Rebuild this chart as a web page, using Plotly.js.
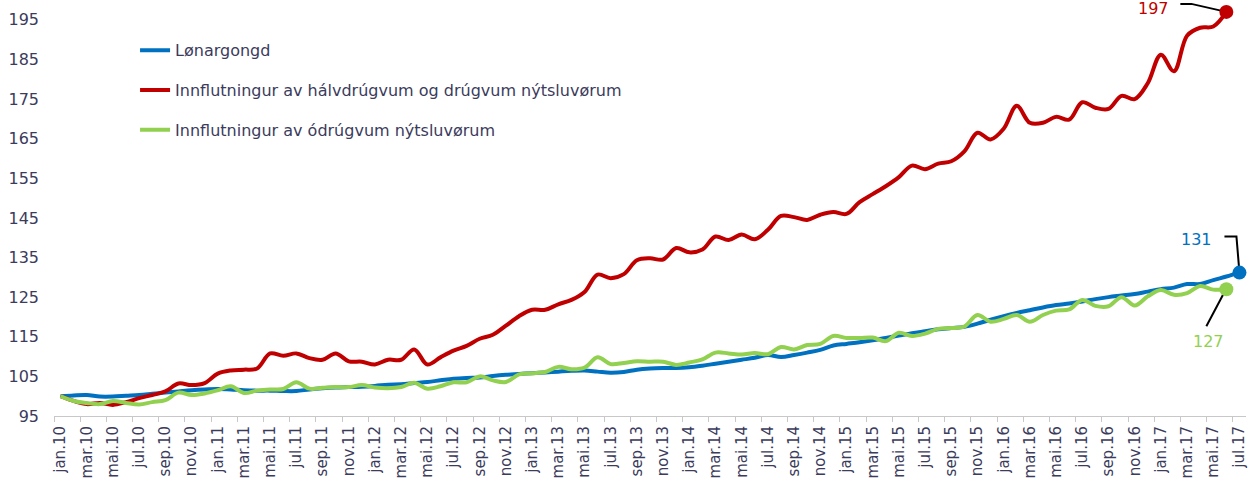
<!DOCTYPE html>
<html>
<head>
<meta charset="utf-8">
<script src="https://cdn.plot.ly/plotly-3.0.1.min.js"></script>
<style>
html,body{margin:0;padding:0;background:#fff;}
#chart{width:1249px;height:481px;}
</style>
</head>
<body>
<div id="chart"></div>
<script>
// ---- data ----
const monthNames = ["jan","feb","mar","apr","mai","jun","jul","aug","sep","okt","nov","des"];
const years = ["10","11","12","13","14","15","16","17"];
const categories = [];
years.forEach(function(yr){ monthNames.forEach(function(m){ categories.push(m + "." + yr); }); });
categories.length = 91; // jan.10 .. jul.17

const seriesNames = [
  "Lønargongd",
  "Innflutningur av hálvdrúgvum og drúgvum nýtsluvørum",
  "Innflutningur av ódrúgvum nýtsluvørum"
];

const wages = [
  100.0,100.2,100.3,99.9,99.9,100.1,100.3,100.6,100.9,101.2,101.5,101.7,
  101.8,101.7,101.5,101.4,101.4,101.3,101.3,101.7,102.0,102.2,102.3,102.4,
  102.6,102.9,103.0,103.3,103.6,104.0,104.4,104.6,104.7,105.1,105.4,105.6,
  105.8,106.0,106.2,106.4,106.5,106.2,105.9,106.1,106.7,107.0,107.1,107.1,
  107.3,107.7,108.2,108.7,109.2,109.7,110.4,109.9,110.4,111.0,111.7,112.8,
  113.2,113.6,114.1,114.7,115.3,115.9,116.4,116.9,117.2,117.5,118.3,119.3,
  120.2,121.0,121.7,122.4,123.0,123.4,123.9,124.5,125.0,125.4,125.8,126.4,
  127.0,127.4,128.3,128.3,129.3,130.2,131.2
];

const durableImports = [
  100.0,98.8,98.0,98.3,97.8,98.5,99.5,100.3,101.2,103.2,102.8,103.3,
  105.7,106.5,106.7,107.0,110.8,110.2,110.8,109.6,109.2,110.8,108.8,108.7,
  108.0,109.2,109.2,111.8,108.0,109.8,111.5,112.7,114.5,115.5,117.8,120.2,
  121.8,121.8,123.2,124.3,126.3,130.7,129.8,130.8,134.3,134.8,134.5,137.4,
  136.3,137.0,140.3,139.4,140.8,139.6,142.0,145.5,145.2,144.5,145.8,146.5,
  146.0,149.0,151.0,153.0,155.3,158.2,157.3,158.7,159.3,161.8,166.5,164.8,
  167.5,173.3,169.0,169.0,170.5,169.8,174.2,172.8,172.5,175.8,175.0,179.0,
  186.2,182.0,191.0,193.0,193.3,197.0
];

const nonDurableImports = [
  100.0,98.8,98.3,98.0,98.8,98.3,97.9,98.5,99.0,100.9,100.3,100.7,
  101.5,102.5,100.8,101.4,101.7,101.8,103.5,101.9,102.1,102.3,102.3,102.8,
  102.2,102.0,102.3,103.4,101.9,102.5,103.5,103.5,105.0,104.0,103.6,105.5,
  105.8,106.1,107.4,106.8,107.2,109.8,108.1,108.4,108.8,108.7,108.7,107.9,
  108.5,109.3,111.0,110.8,110.5,110.9,110.6,112.4,111.8,112.9,113.2,115.2,
  114.7,114.7,114.8,113.9,116.0,115.2,115.8,117.0,117.2,117.6,120.5,118.8,
  119.5,120.5,118.8,120.5,121.6,121.9,124.3,122.8,122.7,125.0,122.9,125.2,
  126.8,125.6,126.0,127.8,126.9,127.0
];

const colors = ["#0070C0", "#C00000", "#92D050"];
const yTicks = [95,105,115,125,135,145,155,165,175,185,195];

// ---- build ----
const allSeries = [wages, durableImports, nonDurableImports];
const idx = categories.map(function(c, i){ return i; });
const shownTicks = idx.filter(function(i){ return i % 2 === 0; });
const shownLabels = shownTicks.map(function(i){ return categories[i]; });

const traces = [];
allSeries.forEach(function(vals, s){
  traces.push({
    type: "scatter", mode: "lines",
    x: idx.slice(0, vals.length), y: vals,
    name: seriesNames[s], legendgroup: "g" + s,
    line: {color: colors[s], width: 4, shape: "spline", smoothing: 1},
    hoverinfo: "x+y", cliponaxis: false
  });
});
allSeries.forEach(function(vals, s){
  const last = vals.length - 1;
  traces.push({
    type: "scatter", mode: "markers",
    x: [idx[last]], y: [vals[last]], showlegend: false,
    marker: {color: colors[s], size: 14},
    cliponaxis: false, hoverinfo: "skip"
  });
});

// end labels + leader lines (offsets in pixels from the last point)
const labelCfg = [
  {s: 0, xshift: -25, yshift: 33, xanchor: "right", path: "M0,0 L-3,36 L-15,36"},
  {s: 1, xshift: -55, yshift: 3, xanchor: "right", path: "M0,0 L-35,8 L-46,8"},
  {s: 2, xshift: -18, yshift: -52, xanchor: "center", path: "M-2,-3 L-20,-37"}
];
const annotations = [];
const shapes = [];
labelCfg.forEach(function(c){
  const vals = allSeries[c.s];
  const last = vals.length - 1;
  annotations.push({
    x: idx[last], y: vals[last], xref: "x", yref: "y",
    text: String(Math.round(vals[last])), showarrow: false,
    xanchor: c.xanchor, yanchor: "middle", xshift: c.xshift, yshift: c.yshift,
    font: {family: "DejaVu Sans, Verdana, sans-serif", size: 16, color: colors[c.s]}
  });
  shapes.push({
    type: "path", xref: "x", yref: "y", xsizemode: "pixel", ysizemode: "pixel",
    xanchor: idx[last], yanchor: vals[last], path: c.path,
    line: {color: "#000000", width: 2}, layer: "below"
  });
});

const txtColor = "#3b3b5c";
const layout = {
  width: 1249, height: 481,
  margin: {l: 54, r: 3, t: 0, b: 65, pad: 0},
  paper_bgcolor: "#ffffff", plot_bgcolor: "#ffffff",
  font: {family: "DejaVu Sans, Verdana, sans-serif", size: 16, color: txtColor},
  showlegend: true,
  legend: {
    x: 0.068, y: 0.92, xanchor: "left", yanchor: "top",
    bgcolor: "rgba(0,0,0,0)", traceorder: "grouped", tracegroupgap: 16,
    font: {family: "DejaVu Sans, Verdana, sans-serif", size: 16, color: txtColor}
  },
  xaxis: {
    type: "linear", range: [-0.5, 90.5], fixedrange: true,
    tickmode: "array", tickvals: shownTicks, ticktext: shownLabels,
    tickangle: -90, ticks: "", showgrid: false, zeroline: false,
    showline: true, linecolor: "#c8c8c8", linewidth: 1,
    ticklabelstandoff: 3,
    tickfont: {family: "DejaVu Sans, Verdana, sans-serif", size: 15, color: txtColor},
    minor: {tick0: -0.5, dtick: 2, ticks: "outside", ticklen: 5, tickcolor: "#c8c8c8", tickwidth: 1, showgrid: false}
  },
  yaxis: {
    range: [95, 200], fixedrange: true,
    tickmode: "array", tickvals: yTicks, ticktext: yTicks.map(String),
    ticks: "", showgrid: false, zeroline: false, showline: false,
    ticklabelstandoff: 14,
    tickfont: {family: "DejaVu Sans, Verdana, sans-serif", size: 16, color: txtColor}
  },
  annotations: annotations,
  shapes: shapes
};

Plotly.newPlot("chart", traces, layout, {displayModeBar: false, staticPlot: true});
</script>
</body>
</html>
